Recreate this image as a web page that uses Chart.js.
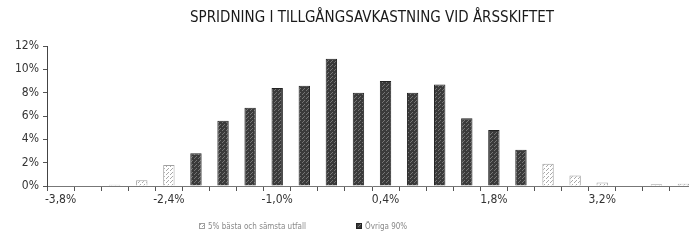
<!DOCTYPE html>
<html>
<head>
<meta charset="utf-8">
<script src="https://cdn.jsdelivr.net/npm/chart.js@4"></script>
<style>
  html, body { margin: 0; padding: 0; background: #fff; overflow: hidden; }
  #wrap { width: 697px; height: 241px; }
</style>
</head>
<body>
<div id="wrap"><canvas id="spread" width="697" height="241"></canvas></div>
<script>
// Categories: return buckets, 0,35 %-points apart (only every 4th is labelled)
const categories = ['-3,8%', '-3,45%', '-3,1%', '-2,75%', '-2,4%', '-2,05%', '-1,7%', '-1,35%',
  '-1,0%', '-0,65%', '-0,3%', '0,05%', '0,4%', '0,75%', '1,1%', '1,45%',
  '1,8%', '2,15%', '2,5%', '2,85%', '3,2%', '3,55%', '3,9%', '4,25%'];

// share of outcomes (%) in the tails
const tailShare = [0.05, 0.05, 0.1, 0.5, 1.8, null, null, null,
  null, null, null, null, null, null, null, null,
  null, null, 1.9, 0.9, 0.3, 0.05, 0.15, 0.2];

// share of outcomes (%) in the middle 90 %
const middleShare = [null, null, null, null, null, 2.8, 5.6, 6.7,
  8.4, 8.6, 10.9, 8.0, 9.0, 8.0, 8.7, 5.8,
  4.8, 3.1, null, null, null, null, null, null];

const yTicks = [0, 2, 4, 6, 8, 10, 12];

const chartTitle = 'SPRIDNING I TILLGÅNGSAVKASTNING VID ÅRSSKIFTET';
const legendLabels = ['5% bästa och sämsta utfall', 'Övriga 90%'];

const condensed = "'Liberation Sans Narrow', 'DejaVu Sans Condensed', sans-serif";

// small speckled fills, to look like the printed bars
function makePattern(base, speck) {
  const c = document.createElement('canvas');
  c.width = 4;
  c.height = 4;
  const g = c.getContext('2d');
  g.fillStyle = base;
  g.fillRect(0, 0, 4, 4);
  g.fillStyle = speck;
  g.fillRect(0, 0, 1, 1);
  g.fillRect(2, 2, 1, 1);
  g.fillRect(3, 1, 1, 1);
  return g.createPattern(c, 'repeat');
}

// title centred over the plot, legend sitting left of centre like the print
const printTexts = {
  id: 'printTexts',
  afterDraw(chart) {
    const g = chart.ctx;
    const area = chart.chartArea;
    g.save();
    g.fillStyle = '#1a1a1a';
    g.font = '15px ' + condensed;
    g.textAlign = 'center';
    g.textBaseline = 'middle';
    g.fillText(chartTitle, (area.left + area.right) / 2, 18);

    // legend
    g.font = '8px ' + condensed;
    g.textAlign = 'left';
    const legendX = [199, 356];
    chart.data.datasets.forEach(function(ds, i) {
      g.fillStyle = ds.backgroundColor;
      g.fillRect(legendX[i], 223, 6, 6);
      g.strokeStyle = ds.borderColor;
      g.lineWidth = 1;
      g.strokeRect(legendX[i] + 0.5, 223.5, 5, 5);
      g.fillStyle = '#888';
      g.fillText(ds.label, legendX[i] + 9, 226.5);
    });
    g.restore();
  }
};

const ctx = document.getElementById('spread').getContext('2d');
const darkFill = makePattern('#3a3a3a', '#767676');
const lightFill = makePattern('#ffffff', '#a8a8a8');

new Chart(ctx, {
  type: 'bar',
  data: {
    labels: categories,
    datasets: [
      {
        label: legendLabels[0],
        data: tailShare,
        backgroundColor: lightFill,
        borderColor: '#a0a0a0',
        borderWidth: 1,
        barPercentage: 0.84,
        categoryPercentage: 0.5
      },
      {
        label: legendLabels[1],
        data: middleShare,
        backgroundColor: darkFill,
        borderColor: '#222',
        borderWidth: 1,
        barPercentage: 0.84,
        categoryPercentage: 0.5
      }
    ]
  },
  options: {
    responsive: false,
    animation: false,
    layout: { padding: { left: 0, right: 0, top: 46, bottom: 28 } },
    plugins: {
      title: { display: false },
      legend: { display: false },
      tooltip: { enabled: false }
    },
    scales: {
      x: {
        stacked: true,
        grid: { drawOnChartArea: false, drawTicks: true, tickLength: 5, color: '#555' },
        border: { color: '#777' },
        ticks: {
          autoSkip: false,
          maxRotation: 0,
          color: '#333',
          padding: 2,
          font: { family: condensed, size: 12 },
          callback: function(value, index) {
            return index % 4 === 0 ? categories[index] : '';
          }
        },
        afterFit: function(scale) { scale.height = 27; }
      },
      y: {
        stacked: true,
        min: yTicks[0],
        max: yTicks[yTicks.length - 1],
        grid: { drawOnChartArea: false, drawTicks: true, tickLength: 4, color: '#555' },
        border: { color: '#444' },
        ticks: {
          stepSize: 2,
          color: '#333',
          padding: 4,
          font: { family: condensed, size: 12 },
          callback: function(value) { return value + '%'; }
        },
        afterFit: function(scale) { scale.width = 47; }
      }
    }
  },
  plugins: [printTexts]
});
</script>
</body>
</html>
